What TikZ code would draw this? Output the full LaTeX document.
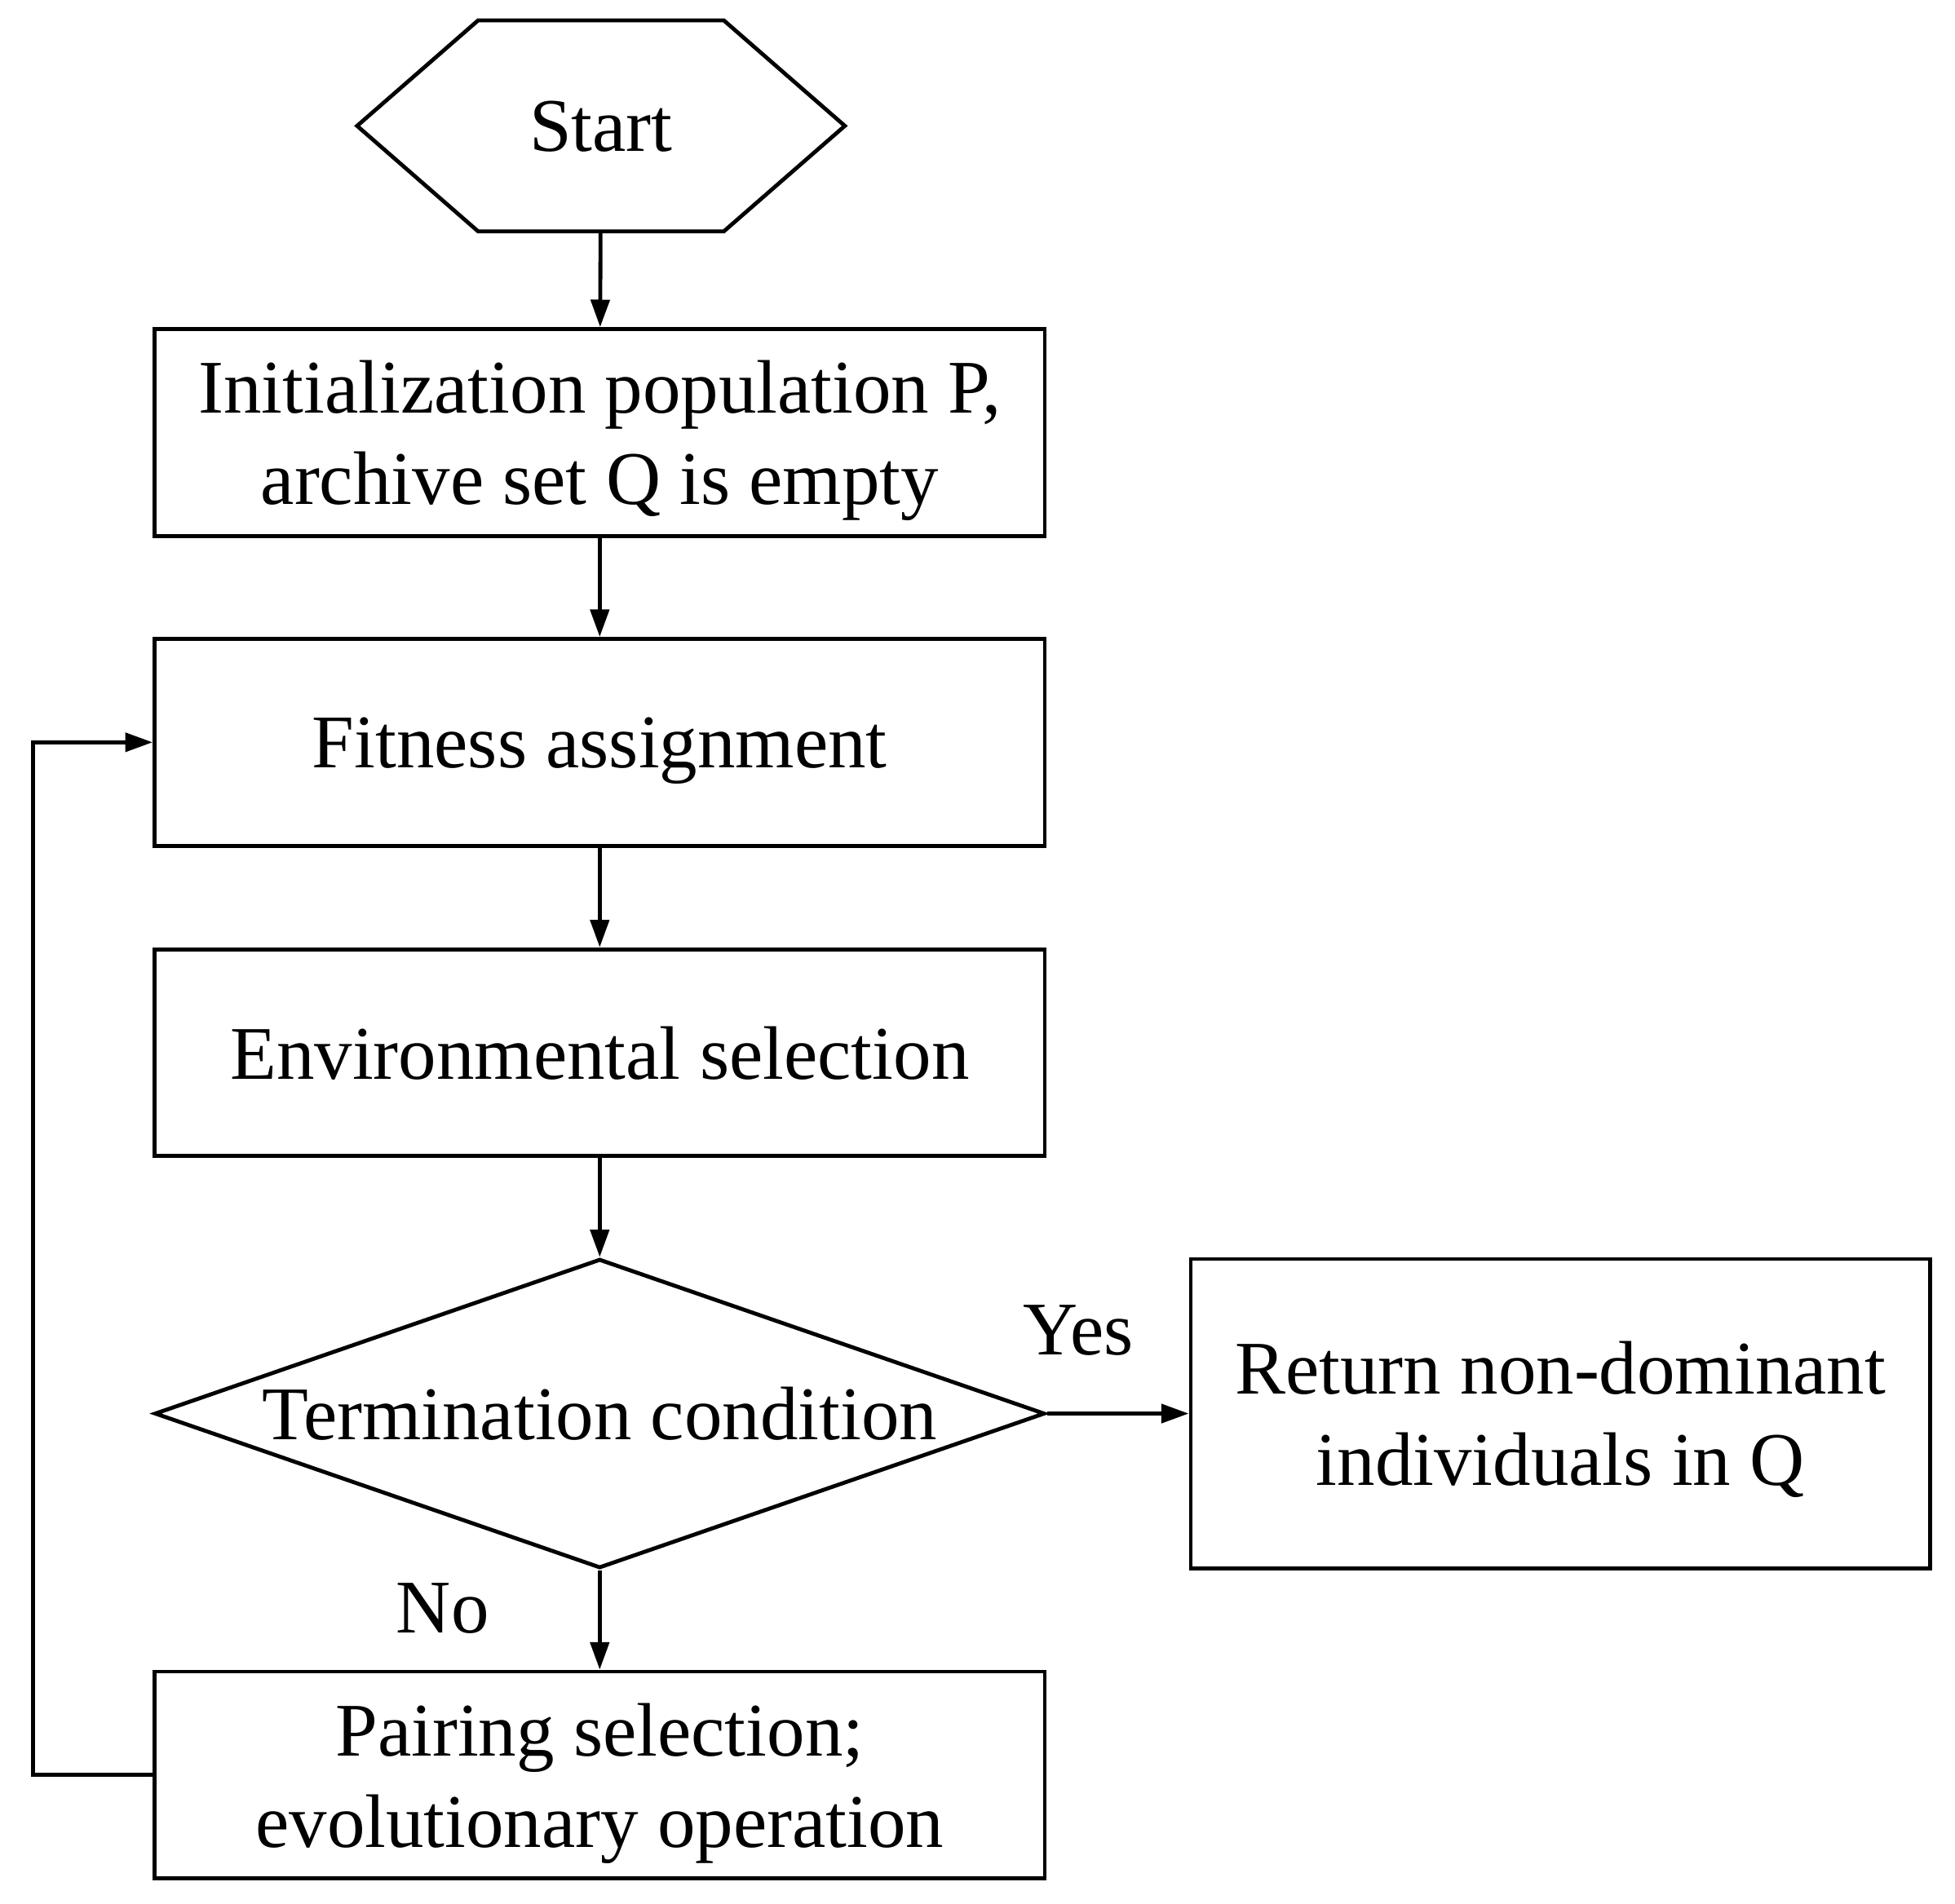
\documentclass[tikz,border=0pt]{standalone}
\usepackage{fontspec}
\setmainfont{Liberation Serif}
\usetikzlibrary{shapes.geometric,arrows.meta}

\begin{document}
\begin{tikzpicture}[
        >={Triangle[length=0.22cm,width=0.15cm]},
        every node/.style={font=\fontsize{17.3}{20.8}\selectfont, align=center, text depth=0pt},
        procbox/.style={draw, line width=0.9pt, minimum width=7.14cm, minimum height=1.66cm},
        line width=0.9pt
    ]
        \useasboundingbox (0,0) rectangle (15.68,15.27);

        \node (start) at (4.82,14.26) [minimum width=3.88cm, minimum height=1.66cm] {Start};
        \draw ([xshift=0.97cm]start.north west) -- ([xshift=-0.97cm]start.north east) -- (start.east)
            -- ([xshift=-0.97cm]start.south east) -- ([xshift=0.97cm]start.south west) -- (start.west) -- cycle;

        \node[procbox] (init) at (4.81,11.80) {Initialization population P,\\archive set Q is empty};
        \node[procbox] (fit) at (4.81,9.315) {Fitness assignment};
        \node[procbox] (env) at (4.81,6.825) {Environmental selection};
        \node[draw, diamond, aspect=2.88, inner sep=0pt, minimum width=7.14cm, minimum height=2.48cm] (term) at (4.81,3.93) {Termination condition};
        \node[procbox, minimum width=5.93cm, minimum height=2.48cm] (ret) at (12.515,3.93) {Return non-dominant\\individuals in Q};
        \node[procbox] (pair) at (4.81,1.03) {Pairing selection;\\evolutionary operation};

        \node (yes) at (8.65,4.60) {Yes};
        \node (no) at (3.55,2.37) {No};

        \draw[->] (start) -- (init);
        \draw[->] (init) -- (fit);
        \draw[->] (fit) -- (env);
        \draw[->] (env) -- (term);
        \draw[->] (term) -- (ret);
        \draw[->] (term) -- (pair);
        \draw[->] (pair.west) -- ++(-0.96,0) |- (fit.west);
    \end{tikzpicture}
\end{document}
